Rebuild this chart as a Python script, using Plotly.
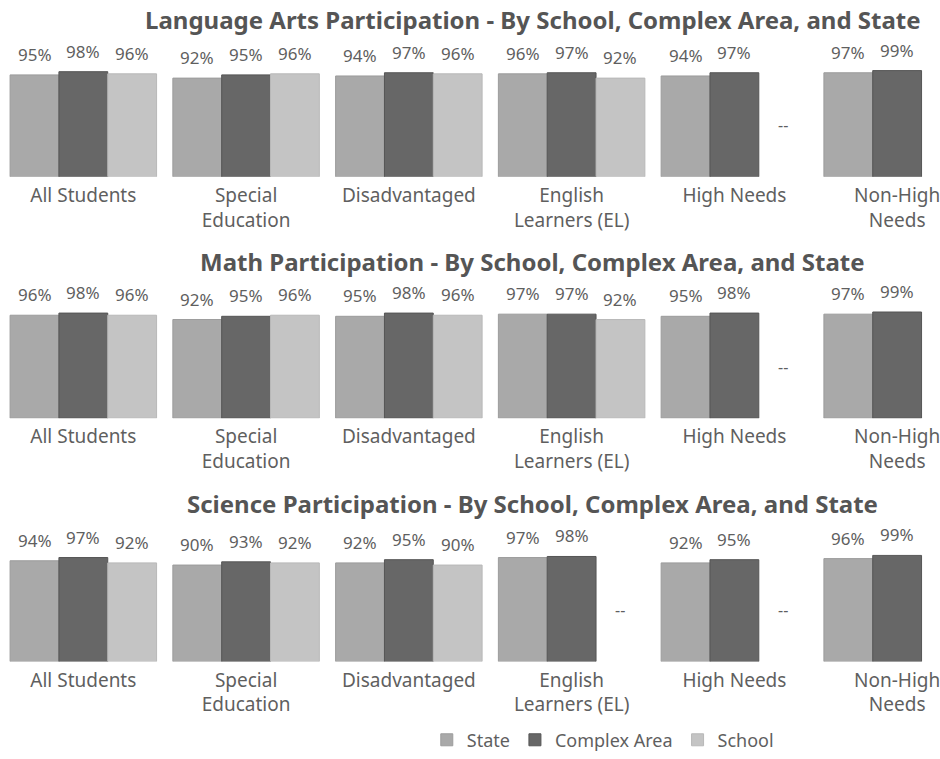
import plotly.graph_objects as go
from plotly.subplots import make_subplots

categories = ["All Students", "Special<br>Education", "Disadvantaged",
              "English<br>Learners (EL)", "High Needs", "Non-High<br>Needs"]
series_names = ["State", "Complex Area", "School"]

titles = ["Language Arts Participation - By School, Complex Area, and State",
          "Math Participation - By School, Complex Area, and State",
          "Science Participation - By School, Complex Area, and State"]

# values per subject: [State, Complex Area, School]; None = not reported ("--")
la_state = [95, 92, 94, 96, 94, 97]
la_complex = [98, 95, 97, 97, 97, 99]
la_school = [96, 96, 96, 92, None, None]

math_state = [96, 92, 95, 97, 95, 97]
math_complex = [98, 95, 98, 97, 98, 99]
math_school = [96, 96, 96, 92, None, None]

sci_state = [94, 90, 92, 97, 92, 96]
sci_complex = [97, 93, 95, 98, 95, 99]
sci_school = [92, 92, 90, None, None, None]

subjects = [
    (la_state, la_complex, la_school),
    (math_state, math_complex, math_school),
    (sci_state, sci_complex, sci_school),
]

colors = ["#a9a9a9", "#676767", "#c4c4c4"]
line_colors = ["#9c9c9c", "#555555", "#b8b8b8"]
FONT = "Noto Sans"
TEXT = "#5f5f5f"

fig = make_subplots(rows=3, cols=1)

H = 759.0
domains = [(178, 70), (421, 313), (666, 558)]
title_y = [20, 263, 507]
BAR_W = 0.3

xs = list(range(len(categories)))
for r, vals in enumerate(subjects):
    xref = "x" if r == 0 else f"x{r+1}"
    yref = "y" if r == 0 else f"y{r+1}"
    for s, (name, v) in enumerate(zip(series_names, vals)):
        fig.add_trace(go.Bar(
            x=xs, y=v, name=name,
            marker=dict(color=colors[s], line=dict(color=line_colors[s], width=1)),
            showlegend=(r == 0), legendgroup=name,
            hoverinfo="skip",
        ), row=r + 1, col=1)
        for i, val in enumerate(v):
            xpos = i + (s - 1) * BAR_W
            if val is None:
                # missing values marked with "--"
                fig.add_annotation(x=xpos, y=48, text="--", showarrow=False,
                                   xref=xref, yref=yref,
                                   font=dict(family=FONT, size=16, color=TEXT))
            else:
                fig.add_annotation(x=xpos, y=val, text=f"{val}%", showarrow=False,
                                   xref=xref, yref=yref, yanchor="bottom", yshift=7,
                                   font=dict(family=FONT, size=17, color=TEXT))
    bot, top = domains[r]
    yk = "yaxis" if r == 0 else f"yaxis{r+1}"
    xk = "xaxis" if r == 0 else f"xaxis{r+1}"
    fig.layout[yk].update(domain=[1 - bot / H, 1 - top / H], range=[0, 100],
                          visible=False, fixedrange=True)
    fig.layout[xk].update(tickmode="array", tickvals=xs, ticktext=categories,
                          range=[-0.512, 5.251], showgrid=False, zeroline=False,
                          showline=False, ticks="", ticklen=0, ticklabelstandoff=5,
                          ticklabeloverflow="allow",
                          tickfont=dict(family=FONT, size=19, color=TEXT))
    fig.add_annotation(x=534 / 940, y=1 - title_y[r] / H, xref="paper", yref="paper",
                       text=f"<b>{titles[r]}</b>", showarrow=False,
                       xanchor="center", yanchor="middle",
                       font=dict(family=FONT, size=24, color="#555555"))

fig.update_layout(
    width=940, height=759,
    margin=dict(l=0, r=0, t=0, b=0),
    barmode="group", bargap=0.1, bargroupgap=0,
    plot_bgcolor="white", paper_bgcolor="white",
    font=dict(family=FONT, color=TEXT),
    legend=dict(orientation="h", x=0.455, xanchor="left", y=1 - 745 / H,
                yanchor="middle", font=dict(family=FONT, size=18, color=TEXT),
                itemwidth=30, tracegroupgap=0),
)

fig.write_html("out.html", config={"displayModeBar": False},
               post_script="document.body.style.margin='0';document.body.style.overflow='hidden';")
